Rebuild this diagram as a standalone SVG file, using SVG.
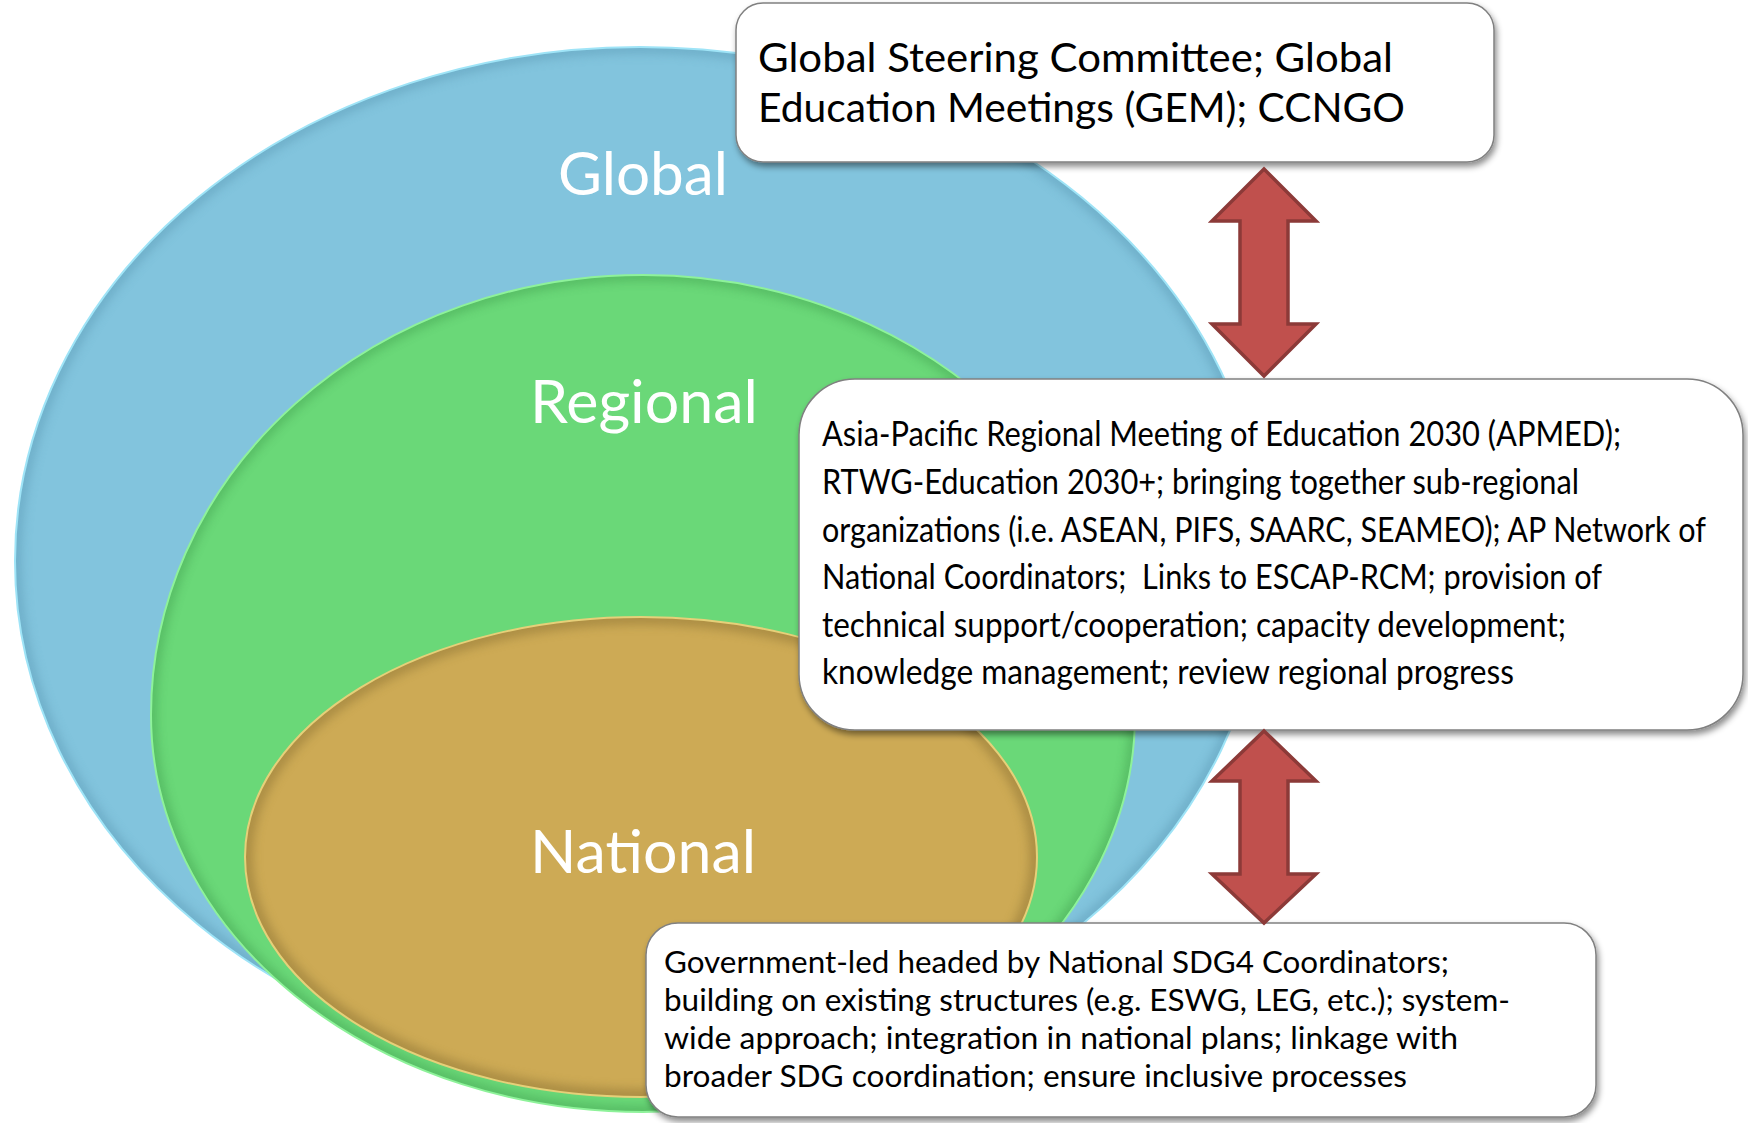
<svg xmlns="http://www.w3.org/2000/svg" width="1748" height="1123" viewBox="0 0 1748 1123">
  <style>
    .lbl { font-family: Lato, "Open Sans", "Liberation Sans", sans-serif; font-size: 60px; fill: #ffffff; }
    .bt { font-family: Lato, "Open Sans", "Liberation Sans", sans-serif; fill: #000000; }
    .b1 { font-size: 40px; }
    .b2 { font-size: 35px; }
    .b3 { font-size: 30px; }
    .box { fill: #ffffff; stroke: #808080; stroke-width: 1.5; filter: url(#sh); }
    .arrow { fill: #C0504D; stroke: #8C3A38; stroke-width: 3.5; stroke-linejoin: miter; }
  </style>
  <defs>
    <filter id="sh" x="-5%" y="-10%" width="115%" height="130%">
      <feDropShadow dx="2" dy="4" stdDeviation="3" flood-color="#000000" flood-opacity="0.45"/>
    </filter>
    <filter id="soft" x="-10%" y="-10%" width="120%" height="120%">
      <feGaussianBlur stdDeviation="5"/>
    </filter>
    <clipPath id="cBlue"><ellipse cx="640" cy="561" rx="625" ry="514"/></clipPath>
    <clipPath id="cGreen"><path d="M151 715 A492 440 0 0 1 1135 715 A492 397 0 0 1 151 715 Z"/></clipPath>
    <clipPath id="cYellow"><ellipse cx="641" cy="857" rx="396" ry="240"/></clipPath>
  </defs>

  <g id="global-ring">
    <ellipse cx="640" cy="561" rx="625" ry="514" fill="#82C4DD"/>
    <g clip-path="url(#cBlue)">
      <ellipse cx="640" cy="561" rx="625" ry="514" fill="none" stroke="#5E9DB8" stroke-width="14" opacity="0.5" filter="url(#soft)"/>
    </g>
    <ellipse cx="640" cy="561" rx="625" ry="514" fill="none" stroke="#9FE4F7" stroke-width="2"/>
    <text class="lbl" x="643" y="195" text-anchor="middle" textLength="170" lengthAdjust="spacingAndGlyphs">Global</text>
  </g>

  <g id="regional-ring">
    <path d="M151 715 A492 440 0 0 1 1135 715 A492 397 0 0 1 151 715 Z" fill="#6AD878"/>
    <g clip-path="url(#cGreen)">
      <path d="M151 715 A492 440 0 0 1 1135 715 A492 397 0 0 1 151 715 Z" fill="none" stroke="#3F9C4E" stroke-width="12" opacity="0.45" filter="url(#soft)"/>
    </g>
    <path d="M151 715 A492 440 0 0 1 1135 715 A492 397 0 0 1 151 715 Z" fill="none" stroke="#8EF29A" stroke-width="2"/>
    <text class="lbl" x="644" y="423" text-anchor="middle" textLength="228" lengthAdjust="spacingAndGlyphs">Regional</text>
  </g>

  <g id="national-ring">
    <ellipse cx="641" cy="857" rx="396" ry="240" fill="#CDAA55"/>
    <g clip-path="url(#cYellow)">
      <ellipse cx="641" cy="857" rx="396" ry="240" fill="none" stroke="#8E7536" stroke-width="16" opacity="0.5" filter="url(#soft)"/>
    </g>
    <ellipse cx="641" cy="857" rx="396" ry="240" fill="none" stroke="#E6D079" stroke-width="2"/>
    <text class="lbl" x="643" y="873" text-anchor="middle" textLength="226" lengthAdjust="spacingAndGlyphs">National</text>
  </g>

  <g id="box-global">
    <rect class="box" x="736" y="3" width="758" height="159" rx="27" ry="27"/>
    <text class="bt b1" x="758" y="72" textLength="635" lengthAdjust="spacingAndGlyphs">Global Steering Committee; Global</text>
    <text class="bt b1" x="758" y="122" textLength="647" lengthAdjust="spacingAndGlyphs">Education Meetings (GEM); CCNGO</text>
  </g>

  <g id="box-regional">
    <rect class="box" x="799" y="379" width="944" height="351" rx="56" ry="56"/>
    <text class="bt b2" x="822" y="446" textLength="799" lengthAdjust="spacingAndGlyphs">Asia-Pacific Regional Meeting of Education 2030 (APMED);</text>
    <text class="bt b2" x="822" y="494" textLength="757" lengthAdjust="spacingAndGlyphs">RTWG-Education 2030+; bringing together sub-regional</text>
    <text class="bt b2" x="822" y="542" textLength="884" lengthAdjust="spacingAndGlyphs">organizations (i.e. ASEAN, PIFS, SAARC, SEAMEO); AP Network of</text>
    <text class="bt b2" x="822" y="589" textLength="780" lengthAdjust="spacingAndGlyphs" xml:space="preserve">National Coordinators;  Links to ESCAP-RCM; provision of</text>
    <text class="bt b2" x="822" y="637" textLength="744" lengthAdjust="spacingAndGlyphs">technical support/cooperation; capacity development;</text>
    <text class="bt b2" x="822" y="684" textLength="692" lengthAdjust="spacingAndGlyphs">knowledge management; review regional progress</text>
  </g>

  <g id="box-national">
    <rect class="box" x="646" y="923" width="950" height="194" rx="32" ry="32"/>
    <text class="bt b3" x="664" y="973" textLength="785" lengthAdjust="spacingAndGlyphs">Government-led headed by National SDG4 Coordinators;</text>
    <text class="bt b3" x="664" y="1011" textLength="846" lengthAdjust="spacingAndGlyphs">building on existing structures (e.g. ESWG, LEG, etc.); system-</text>
    <text class="bt b3" x="664" y="1049" textLength="794" lengthAdjust="spacingAndGlyphs">wide approach; integration in national plans; linkage with</text>
    <text class="bt b3" x="664" y="1087" textLength="743" lengthAdjust="spacingAndGlyphs">broader SDG coordination; ensure inclusive processes</text>
  </g>

  <g id="connectors">
    <polygon id="arrow-global-regional" class="arrow" points="1264,169 1316,221 1288,221 1288,324 1316,324 1264,376 1212,324 1240,324 1240,221 1212,221"/>
    <polygon id="arrow-regional-national" class="arrow" points="1264,731 1316,781 1288,781 1288,874 1316,874 1264,923 1212,874 1240,874 1240,781 1212,781"/>
  </g>
</svg>
